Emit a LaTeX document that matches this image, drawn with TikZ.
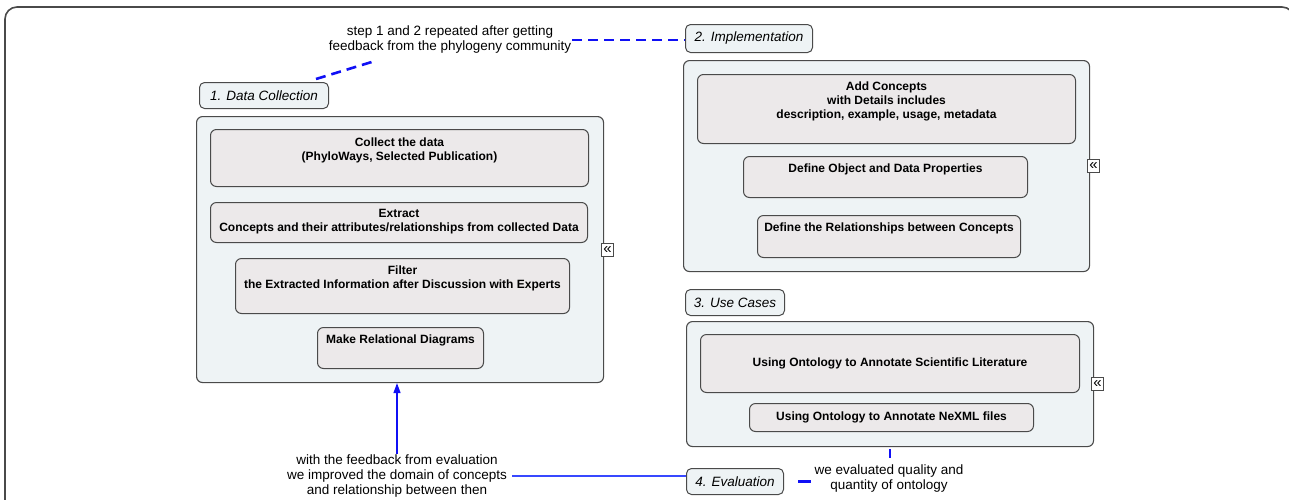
\documentclass[tikz,border=0pt]{standalone}
\usepackage{fontspec}
\setmainfont{Liberation Sans}
\usetikzlibrary{arrows.meta,calc}
\definecolor{contfill}{HTML}{EEF3F5}
\definecolor{boxfill}{HTML}{ECE9EA}
\definecolor{edgec}{HTML}{4A4A4A}
\definecolor{lnblue}{HTML}{1010F5}
\definecolor{evalblue}{HTML}{3848FF}
\begin{document}
\begin{tikzpicture}[x=1pt,y=-1pt,
 cont/.style={draw=edgec, line width=1.1pt, fill=contfill, rounded corners=6pt, anchor=north west, inner sep=0pt},
 stage/.style={draw=edgec, line width=1pt, fill=contfill, rounded corners=5pt, inner sep=0pt, font=\fontsize{13.5}{14}\selectfont\itshape, anchor=north west},
 box/.style={draw=edgec, line width=1pt, fill=boxfill, rounded corners=6pt, anchor=north west, inner sep=0pt},
 btxt/.style={font=\fontsize{12}{14}\selectfont\bfseries, align=center, anchor=north, inner sep=0pt},
 ctxt/.style={font=\fontsize{12}{14}\selectfont\bfseries, align=center, inner sep=0pt},
 note/.style={font=\fontsize{13.5}{15}\selectfont, align=center, inner sep=1pt},
 dashb/.style={draw=lnblue, line width=2.6pt, dash pattern=on 10pt off 6pt},
 thickb/.style={draw=lnblue, line width=2.8pt},
 thinb/.style={draw=lnblue, line width=1.3pt},
 evalline/.style={draw=evalblue, line width=1.6pt},
 iconbox/.style={draw=edgec, fill=white, minimum width=12pt, minimum height=13pt, inner sep=0pt, line width=0.8pt, font=\fontsize{15}{15}\selectfont}
]
\useasboundingbox (0,0) rectangle (1289,499);
% outer frame
\draw[edgec, line width=1.6pt, rounded corners=12pt] (5,510) -- (5,7) -- (1294,7) -- (1294,510);

% 1. Data collection
\node[stage, minimum width=129pt, minimum height=26pt] (lab1) at (199,82) {1. Data Collection};
\node[cont, minimum width=407pt, minimum height=266pt] (c1) at (196,116) {};
\node[box, minimum width=378pt, minimum height=57pt] (b11) at (210,129) {};
\node[btxt] (b11t) at ($(b11.north)+(0,9)$) {Collect the data\\(PhyloWays, Selected Publication)};
\node[box, minimum width=377pt, minimum height=40pt] (b12) at (210,202) {};
\node[btxt] (b12t) at ($(b12.north)+(0,7)$) {Extract\\Concepts and their attributes/relationships from collected Data};
\node[box, minimum width=334pt, minimum height=55pt] (b13) at (235,258) {};
\node[btxt] (b13t) at ($(b13.north)+(0,8)$) {Filter\\the Extracted Information after Discussion with Experts};
\node[box, minimum width=166pt, minimum height=41pt] (b14) at (317,327) {};
\node[btxt] (b14t) at ($(b14.north)+(0,8)$) {Make Relational Diagrams};
\node[iconbox] (i1) at ($(c1.east)+(3.5,0)$) {«};

% 2. Implementation
\node[stage, minimum width=127pt, minimum height=28pt] (lab2) at (685,24) {2. Implementation};
\node[cont, minimum width=406pt, minimum height=211pt] (c2) at (683,60) {};
\node[box, minimum width=378pt, minimum height=69pt] (b21) at (697,74) {};
\node[btxt] (b21t) at ($(b21.north)+(0,8)$) {Add Concepts\\with Details includes\\description, example, usage, metadata};
\node[box, minimum width=284pt, minimum height=41pt] (b22) at (743,156) {};
\node[btxt] (b22t) at ($(b22.north)+(0,8)$) {Define Object and Data Properties};
\node[box, minimum width=263pt, minimum height=42pt] (b23) at (757,215) {};
\node[btxt] (b23t) at ($(b23.north)+(0,8)$) {Define the Relationships between Concepts};
\node[iconbox] (i2) at ($(c2.east)+(3.5,0)$) {«};

% 3. Use cases
\node[stage, minimum width=99pt, minimum height=26pt] (lab3) at (685,289) {3. Use Cases};
\node[cont, minimum width=407pt, minimum height=125pt] (c3) at (686,321) {};
\node[box, minimum width=379pt, minimum height=58pt] (b31) at (700,334) {};
\node[ctxt] (b31t) at (b31.center) {Using Ontology to Annotate Scientific Literature};
\node[box, minimum width=284pt, minimum height=28pt] (b32) at (749,403) {};
\node[ctxt] (b32t) at (b32.center) {Using Ontology to Annotate NeXML files};
\node[iconbox] (i3) at ($(c3.east)+(3.5,0)$) {«};

% 4. Evaluation
\node[stage, minimum width=97pt, minimum height=26pt] (lab4) at (686,468) {4. Evaluation};

% notes
\node[note] (note1) at (450,40) {step 1 and 2 repeated after getting\\feedback from the phylogeny community};
\node[note] (note3) at (397,476) {with the feedback from evaluation\\we improved the domain of concepts\\and relationship between then};
\node[note] (note4) at (889,478) {we evaluated quality and\\quantity of ontology};

% connectors
\draw[dashb] ($(lab1.north east)+(-13,-3)$) -- ($(note1.south)+(-75,6)$);
\draw[dashb] (note1.east) -- (note1.east -| lab2.west);
\draw[thinb, -{Triangle[length=10pt,width=7pt]}] (note3.north) -- (note3.north |- c1.south);
\path[evalline] ($(note3.east)+(4,0)$) -- (note3.east -| lab4.west);
\draw[thickb, shorten <=2pt, shorten >=5pt] (c3.south) -- (c3.south |- note4.north);
\draw[thickb, shorten <=14pt, shorten >=3pt] (lab4.east) -- (lab4.east -| note4.west);
\end{tikzpicture}
\end{document}
